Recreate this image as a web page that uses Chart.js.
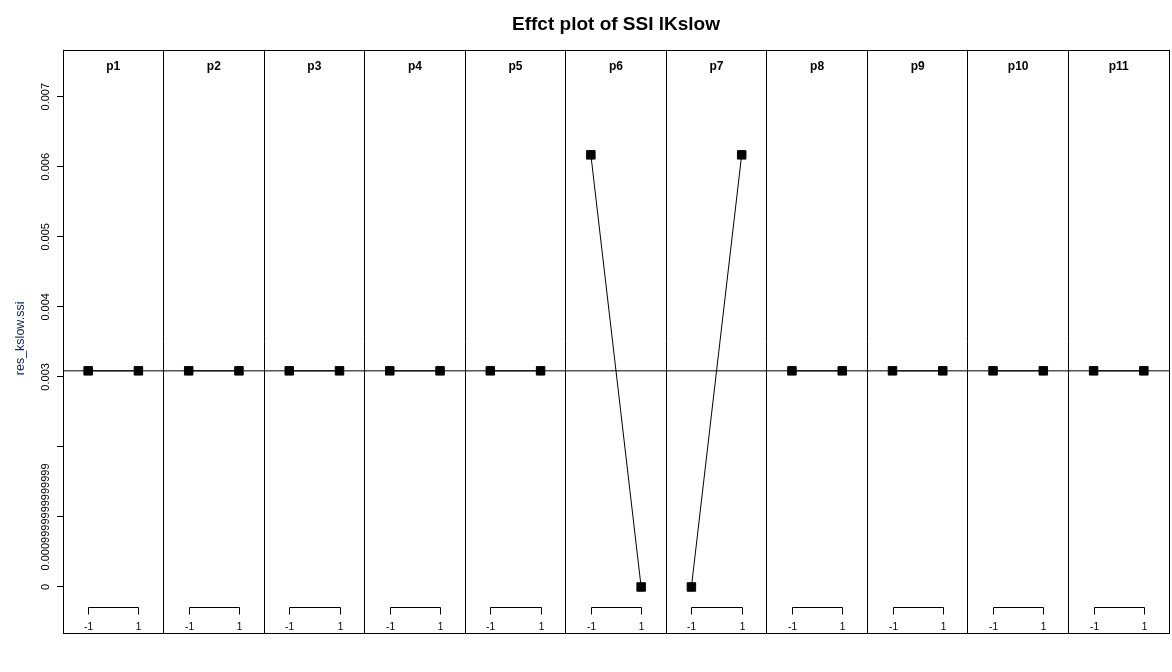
<!DOCTYPE html>
<html><head><meta charset="utf-8">
<script src="https://cdn.jsdelivr.net/npm/chart.js@4"></script>
<style>html,body{margin:0;padding:0;background:#fff}#wrap{width:1172px;height:672px}</style>
</head><body><div id="wrap"><canvas id="c" width="1172" height="672"></canvas></div>
<script>
// ---- data ----
const panels = ['p1','p2','p3','p4','p5','p6','p7','p8','p9','p10','p11'];
const xLevels = [-1, 1];
const xTickLabels = ['-1', '1'];
const lowValues  = [0.003086,0.003086,0.003086,0.003086,0.003086,0.00617,0,0.003086,0.003086,0.003086,0.003086]; // at -1
const highValues = [0.003086,0.003086,0.003086,0.003086,0.003086,0,0.00617,0.003086,0.003086,0.003086,0.003086]; // at 1
const yTickValues = [0,0.001,0.002,0.003,0.004,0.005,0.006,0.007];
const yTickLabels = ['0','0.0009999999999999','','0.003','0.004','0.005','0.006','0.007'];
const refValue = 0.003086;
const chartTitle = 'Effct plot of SSI lKslow';
const yTitle = 'res_kslow.ssi';

// ---- build ----
const FONT = "'Liberation Sans', Arial, sans-serif";
const panelWidth = 4;
const xOf = (i, lvl) => i * panelWidth + 2 + lvl;
const datasets = panels.map((p, i) => ({
  label: p,
  data: [{x: xOf(i, xLevels[0]), y: lowValues[i]}, {x: xOf(i, xLevels[1]), y: highValues[i]}],
  showLine: true, borderColor: '#000', borderWidth: 1,
  pointStyle: 'rect', pointRadius: 6, pointBackgroundColor: '#000', pointBorderColor: '#000', pointBorderWidth: 1
}));
datasets.push({
  label: 'ref', data: [{x: 0, y: refValue}, {x: panels.length * panelWidth, y: refValue}],
  showLine: true, borderColor: '#000', borderWidth: 1, pointRadius: 0
});

const panelPlugin = {
  id: 'panels',
  afterDraw(chart) {
    const ctx = chart.ctx, a = chart.chartArea, xs = chart.scales.x, ys = chart.scales.y;
    ctx.save();
    ctx.strokeStyle = '#000'; ctx.lineWidth = 1;
    const L = Math.round(a.left), T = Math.round(a.top), R = Math.round(a.right), B = Math.round(a.bottom);
    ctx.strokeRect(L + 0.5, T + 0.5, R - L, B - T);
    ctx.fillStyle = '#000';
    panels.forEach((p, i) => {
      const cx = xs.getPixelForValue(i * panelWidth + 2);
      ctx.font = "bold 12px " + FONT;
      ctx.textAlign = 'center'; ctx.textBaseline = 'middle';
      ctx.fillText(p, cx, a.top + 17);
      const x1 = Math.round(xs.getPixelForValue(xOf(i, xLevels[0]))) + 0.5;
      const x2 = Math.round(xs.getPixelForValue(xOf(i, xLevels[1]))) + 0.5;
      const yb = Math.round(a.bottom - 26) + 0.5;
      ctx.beginPath();
      ctx.moveTo(x1, yb + 7); ctx.lineTo(x1, yb); ctx.lineTo(x2, yb); ctx.lineTo(x2, yb + 7);
      ctx.stroke();
      ctx.font = "10px " + FONT;
      ctx.fillText(xTickLabels[0], x1, a.bottom - 6);
      ctx.fillText(xTickLabels[1], x2, a.bottom - 6);
    });
    ctx.font = "11px " + FONT;
    yTickValues.forEach((v, k) => {
      if (!yTickLabels[k]) return;
      ctx.save();
      ctx.translate(46, ys.getPixelForValue(v));
      ctx.rotate(-Math.PI / 2);
      ctx.textAlign = 'center'; ctx.textBaseline = 'middle';
      ctx.fillText(yTickLabels[k], 0, 0);
      ctx.restore();
    });
    ctx.save();
    ctx.fillStyle = '#0d2a6b';
    ctx.font = "12.5px " + FONT;
    ctx.translate(21, (a.top + a.bottom) / 2 - 3);
    ctx.rotate(-Math.PI / 2);
    ctx.textAlign = 'center'; ctx.textBaseline = 'middle';
    ctx.fillText(yTitle, 0, 0);
    ctx.restore();
    ctx.restore();
  }
};

new Chart(document.getElementById('c'), {
  type: 'scatter',
  data: { datasets },
  plugins: [panelPlugin],
  options: {
    responsive: false, animation: false, devicePixelRatio: 1,
    layout: { autoPadding: false, padding: { left: 0, right: 3, top: 0, bottom: 0 } },
    plugins: {
      legend: { display: false }, tooltip: { enabled: false },
      title: { display: true, text: chartTitle, fullSize: false, color: '#000',
        font: { family: FONT, size: 19, weight: 'bold' }, padding: { top: 13, bottom: 14 } }
    },
    scales: {
      x: { type: 'linear', min: 0, max: panels.length * panelWidth,
        afterBuildTicks: s => { s.ticks = Array.from({length: panels.length + 1}, (_, i) => ({value: i * panelWidth})); },
        ticks: { display: false },
        grid: { color: '#000', drawTicks: false, lineWidth: 1 },
        border: { display: false },
        afterFit: s => { s.height = 39; } },
      y: { type: 'linear', min: -0.000657, max: 0.00767,
        afterBuildTicks: s => { s.ticks = yTickValues.map(v => ({value: v})); },
        ticks: { display: false },
        grid: { drawOnChartArea: false, drawTicks: true, tickLength: 6, color: '#000' },
        border: { display: false },
        afterFit: s => { s.width = 63; } }
    }
  }
});
</script></body></html>
